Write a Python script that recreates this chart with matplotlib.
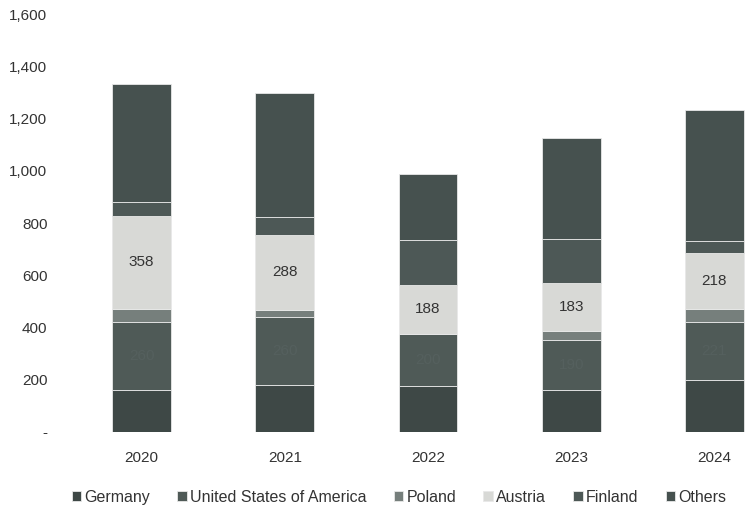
import numpy as np
import matplotlib.pyplot as plt
from matplotlib.ticker import FuncFormatter

plt.rcParams['font.family'] = ['Liberation Sans', 'DejaVu Sans']

years = ['2020', '2021', '2022', '2023', '2024']
germany = [160, 180, 175, 160, 198]
usa = [260, 260, 200, 190, 221]
poland = [50, 27, 0, 38, 50]
austria = [358, 288, 188, 183, 218]
finland = [53, 69, 172, 168, 46]
others = [450, 473, 252, 385, 500]

series = [('Germany', germany, '#3e4846'),
          ('United States of America', usa, '#4f5a57'),
          ('Poland', poland, '#767f7c'),
          ('Austria', austria, '#d8d9d6'),
          ('Finland', finland, '#4d5856'),
          ('Others', others, '#46514f')]

fig = plt.figure(figsize=(7.46, 5.26), dpi=100)
ax = fig.add_axes([60 / 746, 0.179, 1 - 60 / 746, 0.794])

x = np.arange(len(years))
bottom = np.zeros(len(years))
for name, vals, col in series:
    vals = np.array(vals, dtype=float)
    ax.bar(x, vals, 0.41, bottom=bottom, color=col, label=name,
           edgecolor='#e8e8e8', linewidth=0.6)
    if name == 'Austria':
        for xi, b, v in zip(x, bottom, vals):
            ax.text(xi, b + v / 2, str(int(v)), ha='center', va='center',
                    fontsize=11, color='#333333')
    if name == 'United States of America':
        for xi, b, v in zip(x, bottom, vals):
            ax.text(xi, b + v / 2, str(int(v)), ha='center', va='center',
                    fontsize=11, color='#55605e')
    bottom += vals

ax.set_xlim(-0.57, 4.22)
ax.set_ylim(0, 1600)
ax.set_yticks(range(0, 1601, 200))
ax.yaxis.set_major_formatter(FuncFormatter(lambda v, p: '-' if v == 0 else f'{int(v):,}'))
ax.set_xticks(x)
ax.set_xticklabels(years)
ax.tick_params(length=0, labelsize=11, colors='#333333')
ax.tick_params(axis='x', pad=14)
ax.tick_params(axis='y', pad=9)
for s in ax.spines.values():
    s.set_visible(False)

fig.legend(loc='center', bbox_to_anchor=(0.535, 0.055), ncol=6, frameon=False,
           fontsize=11.5, handlelength=0.6, handleheight=0.6, handletextpad=0.2,
           columnspacing=1.7, labelcolor='#333333')

fig.savefig('out.png', dpi=100)
